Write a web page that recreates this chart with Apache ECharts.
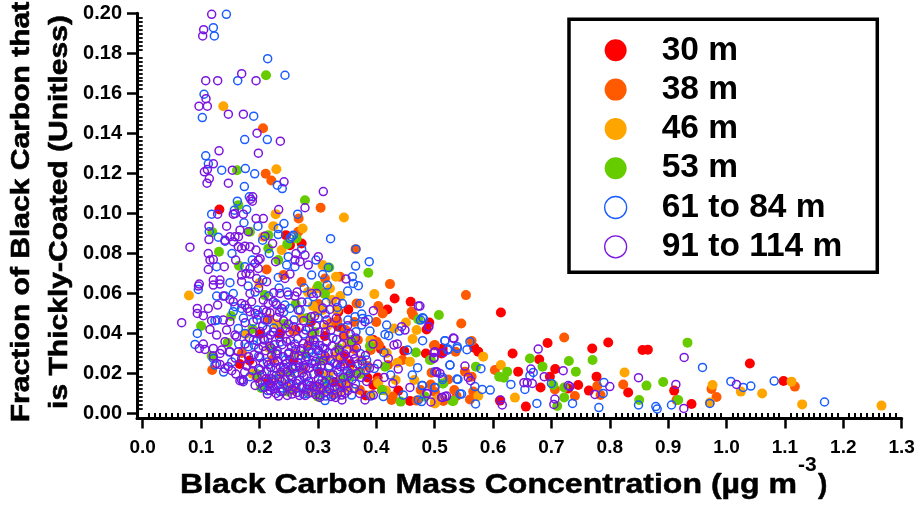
<!DOCTYPE html>
<html><head><meta charset="utf-8">
<style>html,body{margin:0;padding:0;background:#fff}#c{width:919px;height:508px}</style>
<script src="https://cdn.jsdelivr.net/npm/echarts@6/dist/echarts.min.js"></script>
</head><body><div id="c"></div>
<script>
const seriesNames = ["30 m","38 m","46 m","53 m","61 to 84 m","91 to 114 m"];
const xTickLabels = [0.0,0.1,0.2,0.3,0.4,0.5,0.6,0.7,0.8,0.9,1.0,1.1,1.2,1.3];
const yTickLabels = [0.00,0.02,0.04,0.06,0.08,0.10,0.12,0.14,0.16,0.18,0.20];

const m30 = [[.6135,.0503],[.4908,.0453],[.4862,.0418],[.485,.0298],[.512,.0315],[.5747,.0307],[.5678,.0327],[.6335,.0298],[.643,.0207],[.6934,.035],[.6791,.0268],[.7065,.022],[.6974,.0182],[.6814,.0128],[.6563,.0032],[.6118,.0062],[.7642,.0112],[.7459,.014],[.7288,.0123],[.7699,.0323],[.7973,.0353],[.7773,.0182],[.8315,.0103],[.8561,.0315],[.8652,.0317],[.9103,.0112],[.94,.0045],[1.0399,.0248],[1.0976,.016],
[.1313,.1018],[.2453,.089],[.2722,.0848],[.2522,.084],[.4315,.0573],[.4589,.0557],[.4189,.0518],[.3521,.0518],[.335,.0507],[.3949,.0365],[.5137,.0323],[.5119,.0298],[.4024,.0178],[.3847,.0178],[.3949,.014],[.4378,.0112],[.4577,.006],[.335,.0432],[.3436,.0132],
[.235,.0395],[.262,.0415],[.288,.0455],[.312,.0385],[.201,.0395],[.183,.0263],[.166,.0245],[.215,.016],[.258,.0265],[.302,.0205],[.345,.0285],[.372,.0205],[.408,.032],[.448,.031],[.382,.0088],[.41,.0115],[.356,.0245],[.33,.0155]];

const m38 = [[.5536,.059],[.5456,.0448],[.4988,.0338],[.5633,.036],[.5359,.0307],[.6032,.0215],[.5519,.0207],[.5633,.0182],[.4936,.0143],[.4948,.0202],[.5233,.0168],[.5336,.0115],[.5376,.0085],[.5661,.0107],[.5604,.0068],[.5148,.006],[.706,.0118],[.7402,.0085],[.7219,.0378],[.823,.0143],[.7785,.0135],[.7842,.009],[.9143,.0065],[.9742,.012],[.9828,.008],[1.117,.0132],
[.2061,.1425],[.2106,.1197],[.2203,.1163],[.2671,.0973],[.3047,.1027],[.2665,.0907],[.3646,.082],[.2122,.0718],
[.4235,.0645],[.4035,.0535],[.4109,.0498],[.4606,.0507],[.3664,.0548],[.3122,.0673],[.3379,.0682],[.4007,.0357],[.4046,.034],[.5005,.034],[.428,.0082],[.4263,.0065],[.4692,.0062],[.463,.049],[.4,.0455],[.445,.0265],
[.3105,.06],[.3015,.0545],[.272,.0655],[.241,.069],[.216,.0472],[.258,.041],[.119,.0215],[.17,.03],[.198,.0175],[.236,.0195],[.285,.0345],[.322,.045],[.344,.0385],[.362,.032],[.3855,.0235],[.328,.0095],[.345,.0155],[.372,.0115],[.295,.0135],[.402,.016],[.42,.024],[.476,.0115],[.5005,.0105],
[.3335,.0462],[.3625,.0455],[.3475,.0415],[.3405,.0258],[.3135,.0275],[.2745,.0215],[.2575,.0115],[.2225,.0268],[.3685,.0365],[.3905,.0315]];

const m46 = [[.5832,.0282],[.6135,.024],[.6375,.0077],[.5747,.0085],[.5005,.0048],[.5062,.0073],[.8253,.0203],[.976,.014],[.9714,.0052],[1.0245,.0107],[1.061,.0098],[1.1113,.0157],[1.1295,.0043],[1.2654,.0037],
[.1381,.1535],[.2289,.122],[.2277,.0995],[.3446,.0978],[.2236,.0935],[.2739,.0923],[.2065,.0882],[.2379,.0815],[.3081,.074],
[.3967,.0595],[.331,.0682],[.2979,.0623],[.3207,.0623],[.4509,.0453],[.4691,.0415],[.4623,.037],[.4303,.0423],[.4332,.0165],[.4577,.0257],[.4652,.0165],[.4035,.0148],[.4166,.0112],[.391,.009],[.5005,.0057],[.436,.0252],
[.0792,.0588],[.2,.065],[.3245,.0565],[.283,.0605],[.3,.0505],[.3325,.0515],[.316,.0435],[.272,.0475],[.2895,.0385],[.2285,.0445],[.2165,.0325],[.2605,.0295],[.188,.0195],[.245,.014],[.282,.0105],[.3185,.0195],[.3505,.0345],[.374,.0265],[.352,.0125],[.39,.0365],[.418,.03],[.3355,.0105],[.2985,.0105],[.176,.0395],
[.308,.0515],[.3385,.0585],[.2915,.0535],[.3565,.0205],[.3305,.0285],[.2315,.0178],[.3125,.0118]];

const m53 = [[.5073,.049],[.4936,.0265],[.5707,.0232],[.6243,.0207],[.6106,.0182],[.6186,.0177],[.6632,.0273],[.6848,.0232],[.7299,.026],[.7419,.0207],[.7705,.0265],[.5148,.0148],[.5302,.006],[.7031,.014],[.7219,.0128],[.7219,.0078],[.71,.0035],[.8629,.0137],[.8915,.0155],[.8504,.0065],[.9172,.0065],[.9331,.0352],
[.2112,.169],[.1615,.1215],[.1638,.104],[.2779,.1065],[.1192,.0905],[.1837,.0907],[.2151,.089],[.1306,.0807],[.2151,.0823],[.2322,.0765],[.1649,.0737],[.2476,.0845],[.2636,.0873],[.3195,.0728],
[.3122,.0595],[.3864,.0702],[.3892,.0335],[.468,.0303],[.492,.0265],[.415,.0232],[.3721,.0195],[.5137,.0148],[.4418,.0057],[.532,.006],[.4834,.0082],[.355,.0182],[.315,.016],[.472,.0468],[.3578,.0365],
[.1,.0435],[.1455,.0352],[.1515,.0485],[.118,.0285],[.188,.042],[.209,.059],[.222,.0315],[.243,.0445],[.262,.0545],[.282,.0475],[.3005,.0635],[.2945,.0405],[.253,.0205],[.278,.0295],[.3045,.0262],[.335,.0325],[.342,.0172],[.203,.0125],[.196,.0195],[.41,.0115],[.248,.0108],[.3,.0082]];

const m61 = [[.4805,.0473],[.4759,.0465],[.4794,.0362],[.5176,.0362],[.5233,.032],[.5387,.0332],[.5553,.0317],[.5604,.0357],[.5262,.024],[.5005,.0207],[.5136,.0178],[.5399,.0168],[.5793,.0222],[.4999,.0127],[.4794,.0137],[.569,.0132],[.5815,.0118],[.5952,.0115],[.5461,.0095],[.5701,.0045],[.4777,.0057],[.6306,.0143],[.6546,.0118],[.6632,.0187],[.6689,.0203],[.7,.0148],[.6751,.0048],[.7362,.0048],[.7813,.0027],[.7899,.0153],[.7887,.0098],[.8492,.004],[.8789,.0032],[.8812,.002],[.9057,.004],[.9588,.0228],[.9714,.0048],[1.0074,.0158],[1.0285,.0128],[1.0416,.0135],[1.0816,.016],[1.1678,.0055],
[.1433,.1995],[.121,.1928],[.1227,.1887],[.214,.1773],[.2437,.169],[.1627,.1663],[.105,.1595],[.1021,.1478],[.1901,.1485],[.1747,.1368],[.2134,.1368],[.1079,.1287],[.1124,.1247],[.1353,.1215],[.1758,.1223],[.1918,.1197],[.1741,.1133],[.2306,.114],[.239,.1123],[.1826,.1082],[.1621,.106],[.1781,.1018],[.157,.1015],[.1181,.0995],[.2654,.0995],
[.1734,.0952],[.1974,.0935],[.114,.0907],[.1295,.088],[.1409,.086],[.2322,.0923],[.2322,.0893],[.2419,.0948],[.2054,.0865],[.2522,.0873],[.2551,.0882],[.2579,.089],[.3218,.0872],[.3652,.082],[.2722,.082],[.1529,.0798],[.2168,.0798],[.2493,.0782],[.1877,.0765],[.2465,.074],[.2607,.0732],[.2967,.0765],[.3646,.0735],[.388,.0757],[.1266,.0732],[.175,.0732],[.3178,.0728],
[.359,.0682],[.3607,.0648],[.3693,.0637],[.351,.061],[.3162,.064],[.3082,.0693],[.3139,.0553],[.3333,.0528],[.3419,.0548],[.3721,.0548],[.3636,.0482],[.375,.0495],[.3767,.0473],[.3864,.0468],[.375,.044],[.3892,.041],[.3653,.0407],[.415,.0393],[.4212,.0387],[.4178,.044],[.4395,.041],[.4794,.0477],[.5177,.0362],[.5222,.0315],[.5388,.0323],[.4537,.0315],[.4132,.0302],[.5262,.024],[.4709,.0227],[.4617,.019],[.3967,.0223],[.4246,.019],[.3835,.0265],[.3122,.0323],[.2951,.0357],[.5382,.017],[.4783,.0137],[.5005,.0128],[.5137,.0168],[.4121,.0082],[.3904,.0085],[.3578,.009],[.3207,.0115],[.3265,.009],[.3122,.0062],[.4463,.009],[.472,.0065],[.5434,.0095],
[.0952,.0618],[.1266,.0585],[.1409,.0585],[.1551,.0598],[.1494,.0652],[.158,.0532],[.1694,.0523],[.1277,.0465],[.1237,.0462],[.1551,.0507],[.1637,.0423],[.0935,.0398],[.0895,.0343],[.1209,.0273],[.1238,.024],[.1751,.0398],[.1808,.0332],[.1894,.0365],[.1894,.0457],[.198,.049],[.2094,.0465],[.2322,.0678],[.2436,.054],[.2522,.0523],[.2893,.069],[.2921,.0582],[.2065,.0373],[.1908,.034],
[.1723,.0165],[.1837,.0182],[.218,.0132],[.2351,.0107],[.2836,.0098],[.275,.0095],[.2015,.0215],[.2135,.0255],[.2285,.0225],[.2445,.0265],[.2555,.0175],[.2685,.0228],[.2815,.0185],[.2945,.0245],[.307,.0165],[.3195,.0235],[.2105,.0155],[.2255,.0165],[.2395,.0125],[.2625,.0125],[.2965,.0115],[.3135,.0085],[.3375,.0135],[.3325,.0215],[.3515,.0185],[.3645,.0145],[.3765,.0245],[.1985,.0285],[.2175,.0335],[.2355,.0355],[.2605,.0345],[.2755,.0395],[.2975,.0315],[.3255,.0375],[.3405,.0425],[.3515,.0465],[.2245,.0425],[.2415,.0505],[.2695,.0515],[.2825,.0555],[.3005,.0475],[.2155,.0585],[.2335,.0625],[.2765,.0625],[.2055,.0665],[.1805,.0635],[.1645,.0345],[.1485,.0305],[.1385,.0205],[.1525,.0255],
[.2052,.0128],[.2142,.0112],[.2212,.0192],[.2288,.0138],[.2348,.0172],[.2432,.0218],[.2512,.0148],[.2585,.0222],[.2662,.0162],[.2732,.0138],[.2788,.0262],[.2875,.0138],[.2918,.0282],[.3022,.0205],[.3152,.0132],[.3215,.0165],[.3285,.0248],[.3445,.0235],[.3595,.0225],[.3725,.0298],[.3825,.0215],[.2312,.0295],[.2492,.0295],[.2672,.0288],[.2852,.0305],[.3062,.0295],[.2132,.0418],[.2592,.0465],[.2852,.0428],[.3125,.0495],[.1962,.0515],[.2285,.0548],[.2475,.0605],[.1725,.0475],[.1925,.0605]];

const m91 = [[.4748,.0535],[.4902,.0432],[.5319,.0375],[.5005,.0307],[.5148,.0302],[.4988,.0278],[.5033,.0203],[.5519,.0235],[.5576,.0178],[.5616,.0162],[.4874,.0098],[.4936,.0055],[.5136,.0078],[.5205,.0085],[.6129,.0065],[.6158,.004],[.6774,.032],[.6649,.022],[.6529,.0152],[.6586,.0152],[.6672,.0148],[.6877,.0182],[.7202,.0212],[.7288,.0137],[.7317,.0132],[.706,.007],[.7042,.0043],[.7745,.0093],[.8,.0132],[.8492,.0177],[.9268,.0023],[.9274,.0278],[.9132,.0143],[1.017,.0143],
[.1181,.1995],[.1044,.1918],[.1027,.1887],[.1695,.1698],[.1079,.1663],[.1284,.1663],[.1941,.1663],[.1084,.1573],[.0964,.1535],[.1107,.1535],[.1467,.1495],[.1724,.1495],[.1958,.14],[.2357,.136],[.1307,.1312],[.1981,.13],[.121,.1247],[.1107,.1218],[.1056,.1207],[.1535,.1215],[.1141,.1173],[.1101,.115],[.1467,.115],[.242,.1157],[.1884,.1082],[.185,.107],[.1878,.106],[.2329,.1018],[.1581,.0998],[.1941,.0973],[.2066,.0973],
[.1135,.0935],[.1135,.0868],[.0809,.083],[.1437,.0935],[.1723,.0995],[.1283,.0995],[.1551,.0995],[.2779,.1027],[.3093,.1108],[.158,.0882],[.164,.0882],[.1494,.0882],[.1666,.0915],[.1808,.0907],[.2094,.0885],[.1409,.0865],[.1551,.0857],[.1637,.0832],[.1694,.0823],[.1751,.0835],[.1837,.0832],[.194,.0815],[.2225,.0848],[.1123,.0798],[.1152,.0765],[.1209,.0768],[.1592,.0765],[.198,.0765],[.201,.0772],[.1922,.0748],[.2607,.0765],[.2779,.079],[.2625,.0798],[.2693,.0757],[.3007,.0782],[.2836,.074],[.2276,.0757],[.1397,.0732],[.1123,.0718],[.1837,.0723],[.198,.0723],
[.3481,.067],[.2894,.0598],[.298,.0598],[.331,.0557],[.472,.0535],[.395,.0512],[.351,.0437],[.3807,.0457],[.4435,.0432],[.4492,.0415],[.4891,.0432],[.4303,.034],[.436,.0345],[.5331,.0373],[.4206,.0273],[.4988,.0302],[.4988,.0273],[.4377,.022],[.5034,.0207],[.5091,.0198],[.4577,.0128],[.5177,.0082],[.512,.0078],[.4863,.0098],[.3807,.0065],[.395,.009],[.3407,.009],[.3464,.0098],[.3036,.009],[.2979,.0132],
[.0667,.0452],[.0969,.0645],[.0955,.0635],[.1209,.0665],[.1209,.064],[.1323,.0665],[.1323,.0645],[.138,.0585],[.0935,.0523],[.0935,.0498],[.1038,.0487],[.1123,.0523],[.1283,.054],[.118,.0462],[.138,.0465],[.1494,.0457],[.1494,.0568],[.1551,.0557],[.1152,.0418],[.1266,.039],[.1437,.0415],[.158,.039],[.1608,.0382],[.0969,.0323],[.1038,.0345],[.1066,.0318],[.1209,.0323],[.1209,.0285],[.1266,.0248],[.1323,.0298],[.1352,.0315],[.1494,.0307],[.1637,.0307],[.1409,.0357],[.1409,.0223],[.1466,.0232],[.1323,.0243],[.1694,.0165],[.1723,.0157],[.1665,.0162],
[.1694,.069],[.1768,.0698],[.1837,.0695],[.1951,.0673],[.1694,.0657],[.1837,.0598],[.1751,.054],[.1791,.0523],[.1837,.0507],[.1694,.0548],[.1865,.0557],[.215,.0548],[.2236,.0557],[.2294,.054],[.2379,.0523],[.2493,.059],[.2607,.0585],[.2436,.0673],[.2522,.0695],[.2351,.0598],[.2122,.0657],[.2122,.0507],[.2179,.0502],
[.2305,.0478],[.2495,.0445],[.2585,.0432],[.2445,.0425],[.2355,.0405],[.2185,.039],[.2012,.0408],[.1955,.0362],[.2062,.0333],[.2148,.0372],[.2258,.0342],[.2338,.0382],[.2462,.0358],[.2548,.0332],[.2655,.0372],[.2752,.0348],[.2858,.0362],[.2945,.0338],[.1908,.0292],[.2005,.0278],[.2105,.0312],[.2208,.0288],[.2302,.0312],[.2408,.0282],[.2505,.0302],[.2598,.0288],[.2702,.0312],[.2805,.0282],[.2902,.0302],[.3008,.0312],[.2155,.0242],[.2258,.0252],[.2355,.0232],[.2462,.0248],[.2562,.0228],[.2655,.0252],[.2758,.0238],[.2855,.0225],[.2958,.0258],[.3055,.0238],
[.1882,.0212],[.1958,.0178],[.2042,.0192],[.2125,.0208],[.2205,.0172],[.2285,.0188],[.2365,.0205],[.2442,.0168],[.2525,.0188],[.2602,.0198],[.2688,.0165],[.2762,.0182],[.2845,.0158],[.2925,.0195],[.3008,.0172],[.3095,.0198],[.1925,.0138],[.2008,.0152],[.2088,.0128],[.2172,.0145],[.2248,.0122],[.2322,.0142],[.2398,.0108],[.2482,.0132],[.2558,.0118],[.2645,.0102],[.2722,.0128],[.2808,.0118],[.2892,.0102],[.2965,.0092],[.3052,.0122],[.3148,.0108],[.3232,.0082],
[.3125,.0285],[.3215,.0262],[.3292,.0305],[.3378,.0278],[.3452,.0245],[.3535,.0262],[.3608,.0295],[.3682,.0245],[.3262,.0192],[.3348,.0205],[.3432,.0178],[.3505,.0212],[.3585,.0168],[.3662,.0198],[.3745,.0178],[.3152,.0355],[.3242,.0335],[.3322,.0368],[.3412,.0342],[.3498,.0318],[.3575,.0355],[.3662,.0325],[.3105,.0442],[.3222,.0415],[.3315,.0475],[.2965,.0435],[.2885,.0482],[.2755,.0462],[.2665,.0515],[.3085,.0525],[.3205,.0518],[.3405,.0148],[.3512,.0112],[.3625,.0122],[.3718,.0098],[.3305,.0078],[.3412,.0065],[.3835,.0158],[.4025,.0245],[.4135,.0178],[.4285,.0148],[.3945,.0345],
[.1985,.0222],[.2065,.0248],[.2118,.0172],[.2192,.0228],[.2225,.0138],[.2312,.0262],[.2378,.0158],[.2412,.0228],[.2478,.0205],[.2518,.0268],[.2542,.0145],[.2618,.0232],[.2635,.0148],[.2712,.0272],[.2735,.0202],[.2788,.0228],[.2818,.0142],[.2895,.0248],[.2912,.0135],[.2985,.0228],[.3025,.0145],[.3098,.0262],[.3118,.0152],[.3182,.0228],[.3195,.0122],[.3268,.0155],[.3332,.0242],[.3385,.0232],[.3398,.0105],[.3485,.0145],[.3555,.0198],[.1985,.0322],[.2085,.0365],[.2202,.0325],[.2282,.0295],[.2388,.0342],[.2528,.0362],[.2622,.0318],[.2725,.0322],[.2828,.0335],[.2925,.0365],[.3032,.0338],[.3088,.0325],[.3178,.0302],[.3365,.0315],[.3455,.0295],[.3632,.0272],[.3755,.0262],[.3815,.0288],[.3885,.0225],[.2055,.0435],[.2132,.0465],[.2235,.0405],[.2412,.0462],[.2518,.0405],[.2685,.0425],[.2795,.0415],[.2905,.0395],[.3025,.0405],[.3125,.0405],[.1958,.0468],[.1882,.0405],[.1825,.0375],[.1752,.0345],[.1812,.0282],[.1885,.0245],[.1785,.0235],[.1695,.0272],[.1585,.0275],[.1525,.0212],[.1595,.0195],[.1745,.0205],[.2245,.0602],[.2345,.0505],[.2645,.0605],[.2725,.0555],[.2065,.0565],[.1985,.0625],[.2065,.0515],[.1925,.0498],[.1755,.0452],[.2945,.0485],[.3155,.0465],[.3445,.0385],[.3555,.0395],[.3645,.0375],[.2185,.0112],[.2285,.0098],[.2475,.0088],[.2558,.0095],[.2685,.0088],[.2785,.0088],[.3285,.0132],[.3035,.0078],[.2325,.0085],[.2135,.0095]];

const scatterData = [m30,m38,m46,m53,m61,m91];
const colors = ["#ff0000","#ff5a00","#ffa500","#66cc00","#1a5cff","#7a14e0"];

const minorX=[]; for(let i=0;i<=130;i++) if(i%10) minorX.push(i/100);
const minorY=[]; for(let i=0;i<=100;i++) if(i%10) minorY.push(i/500);
const xMin=-0.0098, xMax=1.3, yMin=-0.00275, yMax=0.2;
const FF='"Liberation Sans",Arial,sans-serif';

function baseX(extra){return Object.assign({type:'value',min:xMin,max:xMax,splitLine:{show:false},scale:true},extra);}
function baseY(extra){return Object.assign({type:'value',min:yMin,max:yMax,splitLine:{show:false},scale:true},extra);}
const line={show:true,onZero:false,lineStyle:{color:'#000',width:3}};

const option={
 animation:false,
 backgroundColor:'#fff',
 grid:{left:137,right:17.3,top:13.3,bottom:89.5,containLabel:false},
 xAxis:[
  baseX({position:'bottom',axisLine:line,
    axisTick:{show:true,length:10,inside:false,customValues:xTickLabels,lineStyle:{color:'#000',width:2.5}},
    axisLabel:{show:true,margin:20,color:'#000',fontFamily:FF,fontWeight:'bold',fontSize:19,
      customValues:xTickLabels,formatter:v=>v.toFixed(1),showMinLabel:true,showMaxLabel:true}}),
  baseX({position:'bottom',axisLine:{show:false},axisLabel:{show:false},
    axisTick:{show:true,length:5,customValues:minorX,lineStyle:{color:'#000',width:2}}})
 ],
 yAxis:[
  baseY({position:'left',axisLine:line,
    axisTick:{show:true,length:10,customValues:yTickLabels,lineStyle:{color:'#000',width:2.5}},
    axisLabel:{show:true,margin:15,color:'#000',fontFamily:FF,fontWeight:'bold',fontSize:20,
      customValues:yTickLabels,formatter:v=>v.toFixed(2),showMinLabel:true,showMaxLabel:true}}),
  baseY({position:'left',axisLine:{show:false},axisLabel:{show:false},
    axisTick:{show:true,length:5,customValues:minorY,lineStyle:{color:'#000',width:1.8}}})
 ],
 legend:{
  show:true,orient:'vertical',left:569,top:19.3,
  padding:[14,35,8.5,35],itemWidth:22,itemHeight:22,itemGap:5.3,
  borderColor:'#000',borderWidth:3.5,backgroundColor:'#fff',selectedMode:false,z:20,
  textStyle:{fontFamily:FF,fontWeight:'bold',fontSize:33.5,color:'#000',padding:[0,0,0,30]},
  data:seriesNames.map((n,i)=>({name:n,icon:'circle',
     itemStyle:i<4?{color:colors[i],borderWidth:0}:{color:'#fff',borderColor:colors[i],borderWidth:1.3}}))
 },
 series:scatterData.map((d,i)=>({
  name:seriesNames[i],type:'scatter',data:d,clip:false,silent:true,xAxisIndex:0,yAxisIndex:0,
  symbol:'circle',symbolSize:i<4?10:8,
  itemStyle:i<4?{color:colors[i],opacity:1}:{color:'rgba(0,0,0,0)',borderColor:colors[i],borderWidth:1.5,opacity:1}
 })),
 graphic:[
  {type:'text',x:21.5,y:212,rotation:Math.PI/2,scaleX:1.155,style:{text:'Fraction of Black Carbon that',font:'bold 26px '+FF,fill:'#000',stroke:'#000',lineWidth:0.6,align:'center',verticalAlign:'middle'}},
  {type:'text',x:60,y:212,rotation:Math.PI/2,scaleX:1.155,style:{text:'is Thickly-Coated (Unitless)',font:'bold 26px '+FF,fill:'#000',stroke:'#000',lineWidth:0.6,align:'center',verticalAlign:'middle'}},
  {type:'text',x:180,y:485,scaleX:1.145,style:{text:'Black Carbon Mass Concentration (\u00b5g m',font:'bold 28px '+FF,fill:'#000',stroke:'#000',lineWidth:0.5,align:'left',verticalAlign:'middle'}},
  {type:'text',x:798,y:465,style:{text:'-3',font:'bold 21px '+FF,fill:'#000',align:'left',verticalAlign:'middle'}},
  {type:'text',x:818,y:485,style:{text:')',font:'bold 28px '+FF,fill:'#000',stroke:'#000',lineWidth:0.5,align:'left',verticalAlign:'middle'}}
 ]
};
const chart=echarts.init(document.getElementById('c'),null,{renderer:'canvas'});
chart.setOption(option);
</script></body></html>
